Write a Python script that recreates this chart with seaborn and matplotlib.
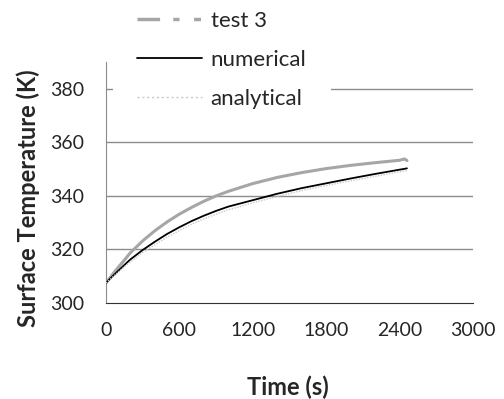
import pandas as pd
import seaborn as sns
import matplotlib.pyplot as plt
from matplotlib.lines import Line2D

# values
time_s = [0, 50, 100, 150, 200, 300, 400, 500, 600, 700, 800, 900, 1000,
          1200, 1400, 1600, 1800, 2000, 2200, 2400, 2440, 2460]
test3 = [307.5, 310.5, 313.3, 316.0, 318.8, 323.2, 327.0, 330.3, 333.2, 335.7, 338.0, 340.0, 341.7,
         344.6, 346.9, 348.7, 350.2, 351.4, 352.4, 353.3, 353.8, 353.2]
numerical = [307.5, 309.8, 312.0, 314.2, 316.3, 319.8, 322.9, 325.8, 328.3, 330.6, 332.6, 334.4, 336.0,
             338.4, 340.8, 342.9, 344.7, 346.5, 348.2, 349.8, 350.1, 350.3]
analytical = [307.5, 309.5, 311.5, 313.5, 315.4, 318.8, 321.8, 324.6, 327.1, 329.4, 331.4, 333.2, 334.8,
              337.4, 339.8, 342.0, 343.9, 345.6, 347.3, 349.0, 349.3, 349.5]

series_names = ["test 3", "numerical", "analytical"]
x_ticks = [0, 600, 1200, 1800, 2400, 3000]
y_ticks = [300, 320, 340, 360, 380]

df = pd.concat([
    pd.DataFrame({"time": time_s, "temp": vals, "series": name})
    for name, vals in zip(series_names, [test3, numerical, analytical])
])

sns.set_style("white")
plt.rcParams["font.family"] = ["Lato", "DejaVu Sans"]

fig = plt.figure(figsize=(5.04, 3.99), dpi=100)
ax = fig.add_axes([0.2103, 0.2406, 0.7282, 0.6040])

palette = {"test 3": "#a6a6a6", "numerical": "#000000", "analytical": "#c8c8c8"}
widths = {"test 3": 2.2, "numerical": 1.3, "analytical": 1.0}
styles = {"test 3": "-", "numerical": "-", "analytical": (0, (1, 1))}

for name in series_names:
    sub = df[df["series"] == name]
    sns.lineplot(data=sub, x="time", y="temp", ax=ax, color=palette[name],
                 linewidth=widths[name], linestyle=styles[name], zorder=3, legend=False)

ax.set_xlim(0, 3000)
ax.set_ylim(300, 390)
ax.set_xticks(x_ticks)
ax.set_yticks(y_ticks)
for y in y_ticks[1:]:
    ax.axhline(y, color="#8c8c8c", linewidth=1, zorder=1)

sns.despine(ax=ax)
ax.spines["left"].set_color("#8c8c8c")
ax.spines["bottom"].set_color("#333333")
ax.tick_params(axis="x", direction="in", length=6, color="#333333", labelsize=14, pad=14)
ax.tick_params(axis="y", direction="in", length=6, color="#8c8c8c", labelsize=14, pad=16)

ax.set_xlabel("Time (s)", fontsize=17, fontweight="bold")
ax.set_ylabel("Surface Temperature (K)", fontsize=17, fontweight="bold")
ax.xaxis.set_label_coords(0.496, -0.30)
ax.yaxis.set_label_coords(-0.18, 0.436)

# legend sits above the plot, white box hides part of the 380 gridline
handles = [
    Line2D([], [], color="#a6a6a6", linewidth=2.5, linestyle=(0, (6.5, 3.8, 1.8, 4.2, 2, 3))),
    Line2D([], [], color="#000000", linewidth=1.3),
    Line2D([], [], color="#c8c8c8", linewidth=1.0, linestyle=(0, (1.5, 2))),
]
leg = ax.legend(handles, series_names, loc="lower left",
                bbox_to_anchor=(0.019, 0.705), borderaxespad=0,
                fontsize=16, frameon=True, facecolor="white", edgecolor="none",
                framealpha=1, fancybox=False, borderpad=1.1,
                handlelength=2.9, handletextpad=0.4, labelspacing=0.85)
leg.set_zorder(5)

fig.savefig("out.png", dpi=100)
